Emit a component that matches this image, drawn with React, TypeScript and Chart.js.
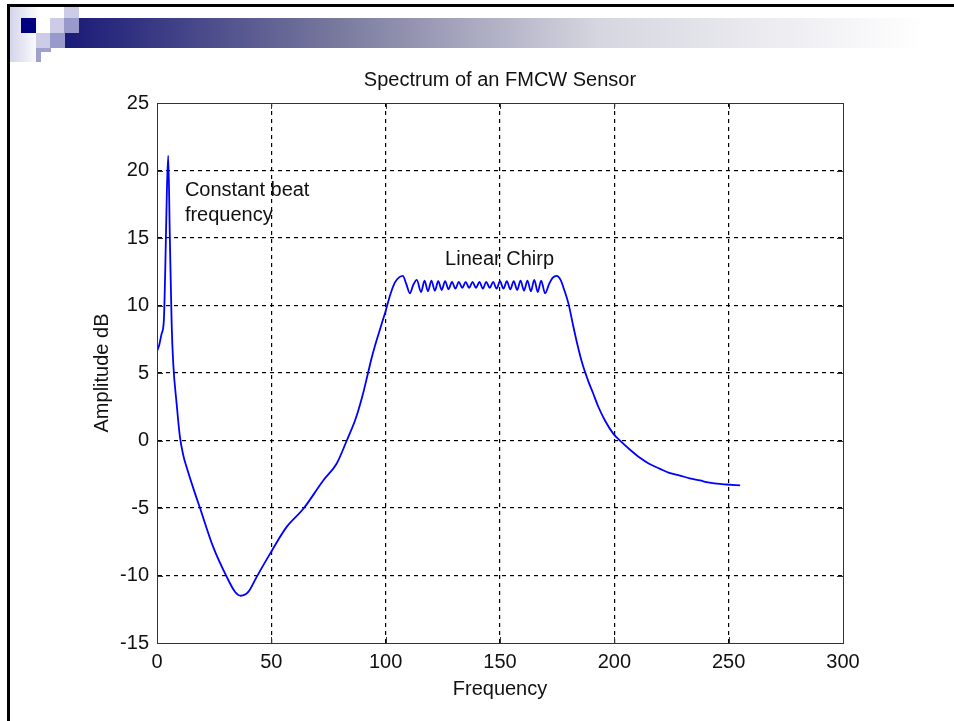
import React, { useEffect, useRef } from "react";
import { Chart, registerables } from "chart.js";

Chart.register(...registerables);

// ---- data ----
const frequency = [
  0, 1, 2, 3, 3.6, 4.3, 4.9, 5.6, 6.4, 7.1, 8.6, 10, 11.5, 13, 16, 18.8, 24.6, 30.5, 34.1, 36.6,
  40, 43.6, 49.4, 56.7, 64, 72.7, 78.6, 83, 86.6, 88, 90, 92, 94, 96, 98, 100, 102, 104, 106,
  107.5, 109, 110.6, 112, 113.6, 115.5, 117, 118.5, 120, 121.5, 123, 124.5, 126, 127.5, 129,
  130.5, 132, 133.5, 135, 136.5, 138, 139.5, 141, 142.5, 144, 145.5, 147, 148.5, 150, 151.5,
  153, 154.5, 156, 157.5, 159, 160.5, 162, 163.5, 165, 166.5, 168, 169.7, 171.5, 173, 174.8,
  176.5, 178, 180, 182, 184, 186, 188.6, 190.8, 193, 195.9, 199.6, 203.2, 207, 211.2, 215, 220,
  224, 228.7, 233, 237.5, 241, 244.8, 249.1, 255,
];
const amplitude = [
  6.6, 7.1, 7.9, 8.9, 12.6, 18.3, 21.1, 15.2, 8.7, 5.7, 2.7, 0.3, -1.1, -2.0, -3.6, -5.0, -7.9,
  -10.1, -11.2, -11.5, -11.2, -10.1, -8.4, -6.4, -5.06, -2.96, -1.7, 0, 1.48, 2.2, 3.4, 4.8,
  6.2, 7.4, 8.5, 9.6, 10.8, 11.7, 12.1, 12.2, 11.6, 10.9, 11.5, 11.9, 11.0, 11.85, 11.05, 11.85,
  11.1, 11.8, 11.15, 11.8, 11.2, 11.75, 11.25, 11.75, 11.3, 11.75, 11.3, 11.75, 11.3, 11.75,
  11.25, 11.75, 11.3, 11.75, 11.25, 11.8, 11.25, 11.8, 11.2, 11.8, 11.15, 11.85, 11.1, 11.85,
  11.05, 11.9, 11.0, 11.85, 10.9, 11.6, 12.05, 12.2, 11.9, 11.2, 10.1, 8.5, 7.0, 5.7, 4.4, 3.46,
  2.5, 1.48, 0.49, -0.12, -0.7, -1.28, -1.7, -2.1, -2.4, -2.6, -2.8, -2.96, -3.1, -3.2, -3.26,
  -3.33,
];
const xRange = [0, 300];
const yRange = [-15, 25];
const xStep = 50;
const yStep = 5;
const chartTitle = "Spectrum of an FMCW Sensor";
const xLabel = "Frequency";
const yLabel = "Amplitude dB";
const noteTexts = ["Constant beat", "frequency", "Linear Chirp"];
const noteX = [12.2, 12.2, 126];
const noteY = [18.5, 16.7, 13.4];

const FONT = "'Liberation Sans', Arial, Helvetica, sans-serif";

const framePlugin = {
  id: "matlabFrame",
  afterDraw(chart: any) {
    const { ctx, chartArea, scales } = chart;
    const { left, right, top, bottom } = chartArea;
    ctx.save();
    ctx.strokeStyle = "#333";
    ctx.lineWidth = 1;
    ctx.setLineDash([]);
    ctx.strokeRect(Math.round(left) + 0.5, Math.round(top) + 0.5, Math.round(right - left), Math.round(bottom - top));
    const tl = 6;
    ctx.beginPath();
    scales.x.ticks.forEach((t: any) => {
      const px = Math.round(scales.x.getPixelForValue(t.value)) + 0.5;
      ctx.moveTo(px, bottom);
      ctx.lineTo(px, bottom - tl);
      ctx.moveTo(px, top);
      ctx.lineTo(px, top + tl);
    });
    scales.y.ticks.forEach((t: any) => {
      const py = Math.round(scales.y.getPixelForValue(t.value)) + 0.5;
      ctx.moveTo(left, py);
      ctx.lineTo(left + tl, py);
      ctx.moveTo(right, py);
      ctx.lineTo(right - tl, py);
    });
    ctx.stroke();
    // annotations
    ctx.fillStyle = "#111";
    ctx.font = `20px ${FONT}`;
    ctx.textBaseline = "middle";
    ctx.textAlign = "left";
    noteTexts.forEach((txt, i) => {
      ctx.fillText(txt, scales.x.getPixelForValue(noteX[i]), scales.y.getPixelForValue(noteY[i]));
    });
    ctx.restore();
  },
};

const innerGridColor = (range: number[]) => (c: any) =>
  c.tick && (c.tick.value === range[0] || c.tick.value === range[1]) ? "rgba(0,0,0,0)" : "#000";

export default function App() {
  const ref = useRef<HTMLCanvasElement | null>(null);

  useEffect(() => {
    if (!ref.current) return;
    const points = frequency.map((f, i) => ({ x: f, y: amplitude[i] }));
    const chart = new Chart(ref.current, {
      type: "line",
      data: {
        datasets: [
          {
            data: points,
            borderColor: "#0000ff",
            borderWidth: 1.8,
            pointRadius: 0,
            fill: false,
            cubicInterpolationMode: "monotone",
          },
        ],
      },
      options: {
        animation: false,
        responsive: false,
        devicePixelRatio: 1,
        layout: { padding: { left: 0, top: 0, right: 111, bottom: 0 } },
        plugins: {
          legend: { display: false },
          tooltip: { enabled: false },
          title: {
            display: true,
            text: chartTitle,
            fullSize: false,
            color: "#111",
            font: { family: FONT, size: 20, weight: "normal" },
            padding: { top: 68, bottom: 11 },
          },
        },
        scales: {
          x: {
            type: "linear",
            min: xRange[0],
            max: xRange[1],
            ticks: {
              stepSize: xStep,
              color: "#111",
              font: { family: FONT, size: 20 },
              padding: 7,
              maxRotation: 0,
            },
            grid: { color: innerGridColor(xRange), lineWidth: 1.2, drawTicks: false },
            border: { display: true, color: "#333", width: 1, dash: [4, 4] },
            title: {
              display: true,
              text: xLabel,
              color: "#111",
              font: { family: FONT, size: 20 },
              padding: { top: 0, bottom: 19.6 },
            },
            afterFit: (s: any) => {
              s.height = 78;
            },
          },
          y: {
            type: "linear",
            min: yRange[0],
            max: yRange[1],
            ticks: {
              stepSize: yStep,
              color: "#111",
              font: { family: FONT, size: 20 },
              padding: 8,
            },
            grid: { color: innerGridColor(yRange), lineWidth: 1.2, drawTicks: false },
            border: { display: true, color: "#333", width: 1, dash: [4, 4] },
            title: {
              display: true,
              text: yLabel,
              color: "#111",
              font: { family: FONT, size: 20 },
              padding: { top: 90.6, bottom: 0 },
            },
            afterFit: (s: any) => {
              s.width = 157;
            },
          },
        },
      },
      plugins: [framePlugin],
    } as any);
    return () => chart.destroy();
  }, []);

  const sq = (x: number, y: number, w: number, h: number, c: string) => (
    <div style={{ position: "absolute", left: x, top: y, width: w, height: h, background: c }} />
  );

  return (
    <div
      style={{
        position: "fixed",
        left: 0,
        top: 0,
        width: 954,
        height: 721,
        background: "#fff",
        overflow: "hidden",
      }}
    >
      {/* slide decoration */}
      <div
        style={{
          position: "absolute",
          left: 10,
          top: 6,
          width: 30,
          height: 56,
          background: "linear-gradient(to right, #d4d4ea, #ffffff)",
        }}
      />
      <div
        style={{
          position: "absolute",
          left: 65,
          top: 18,
          width: 860,
          height: 30,
          background: "linear-gradient(to right, #1a1a78 0%, #7a7a9e 32%, #d6d6e0 62%, #ffffff 100%)",
        }}
      />
      {sq(21, 18, 15, 15, "#000080")}
      {sq(64, 4, 15, 14, "#ccccE6")}
      {sq(50, 18, 14, 15, "#ccccE6")}
      {sq(64, 18, 15, 15, "#9999cc")}
      {sq(36, 33, 14, 15, "#ccccE6")}
      {sq(50, 33, 15, 15, "#9999cc")}
      {sq(36, 48, 15, 4, "#a0a0d0")}
      {sq(36, 48, 5, 14, "#a0a0d0")}
      <div style={{ position: "absolute", left: 8, top: 4, width: 946, height: 3, background: "#000" }} />
      <div style={{ position: "absolute", left: 7, top: 4, width: 3, height: 717, background: "#000" }} />
      <canvas ref={ref} width={954} height={721} style={{ position: "absolute", left: 0, top: 0 }} />
    </div>
  );
}
